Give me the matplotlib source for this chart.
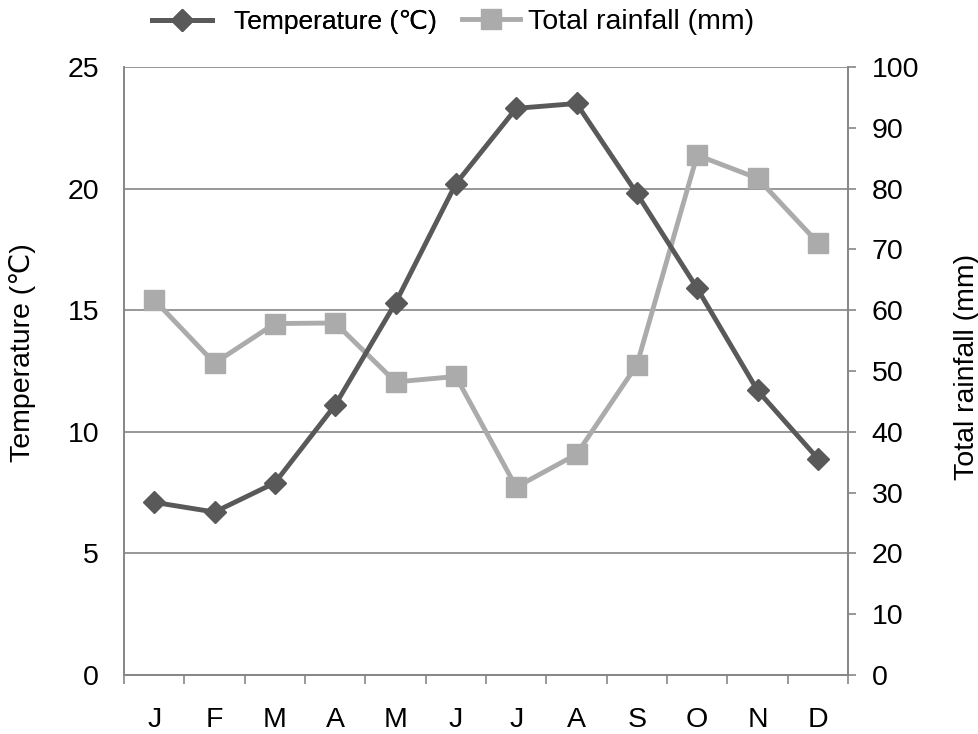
import matplotlib.pyplot as plt
import numpy as np

plt.rcParams['font.family'] = ['Liberation Sans', 'DejaVu Sans']

months = ['J', 'F', 'M', 'A', 'M', 'J', 'J', 'A', 'S', 'O', 'N', 'D']
temperature = [7.1, 6.7, 7.9, 11.1, 15.3, 20.2, 23.3, 23.5, 19.8, 15.9, 11.7, 8.9]
rainfall = [61.7, 51.3, 57.8, 57.9, 48.2, 49.1, 30.9, 36.3, 51.0, 85.5, 81.7, 71.1]

axis_col = '#868686'
fs = 20.5

fig = plt.figure(figsize=(9.79, 7.34), dpi=100)
ax = fig.add_axes([0.1267, 0.0804, 0.7395, 0.8283])
ax2 = ax.twinx()

x = np.arange(len(months))

# grid on the left scale
ax.set_ylim(0, 25)
ax.set_yticks(np.arange(0, 26, 5))
ax.yaxis.grid(True, color=axis_col, lw=1.2)
ax.set_axisbelow(True)
ax.tick_params(axis='y', length=0, pad=18, labelsize=fs)

ax.set_xlim(-0.5, 11.5)
ax.set_xticks(x)
ax.set_xticklabels(months)
ax.set_xticks(np.arange(-0.5, 12, 1), minor=True)
ax.tick_params(axis='x', which='major', length=0, pad=23, labelsize=fs)
ax.tick_params(axis='x', which='minor', length=6.5, width=1.2, color=axis_col)

ax2.set_ylim(0, 100)
ax2.set_yticks(np.arange(0, 101, 10))
ax2.tick_params(axis='y', length=6, width=1.2, color=axis_col, pad=11, labelsize=fs)

for a in (ax, ax2):
    a.spines['top'].set_visible(False)
    for s in ('left', 'right', 'bottom'):
        a.spines[s].set_color(axis_col)
        a.spines[s].set_linewidth(1.2)

l2, = ax2.plot(x, rainfall, color='#ababab', lw=3.5, marker='s', ms=15,
               label='Total rainfall (mm)', zorder=2)
l1, = ax2.plot(x, np.array(temperature) * 4, color='#595959', lw=3.5, marker='D', ms=11,
               label='Temperature (℃)', zorder=3)

ax.set_ylabel('Temperature (℃)', fontsize=fs)
ax.yaxis.set_label_coords(-0.122, 0.531)
ax2.set_ylabel('Total rainfall (mm)', fontsize=fs)
ax2.yaxis.set_label_coords(1.146, 0.507)

leg1 = fig.legend(handles=[l1], loc='center left', bbox_to_anchor=(0.155, 0.970),
                  frameon=False, fontsize=19, handlelength=2.3, handletextpad=0.8,
                  borderpad=0, borderaxespad=0)
fig.legend(handles=[l2], loc='center left', bbox_to_anchor=(0.472, 0.970),
           frameon=False, fontsize=fs, handlelength=2.05, handletextpad=0.25,
           borderpad=0, borderaxespad=0)
fig.add_artist(leg1)

fig.savefig('out.png', dpi=100)
